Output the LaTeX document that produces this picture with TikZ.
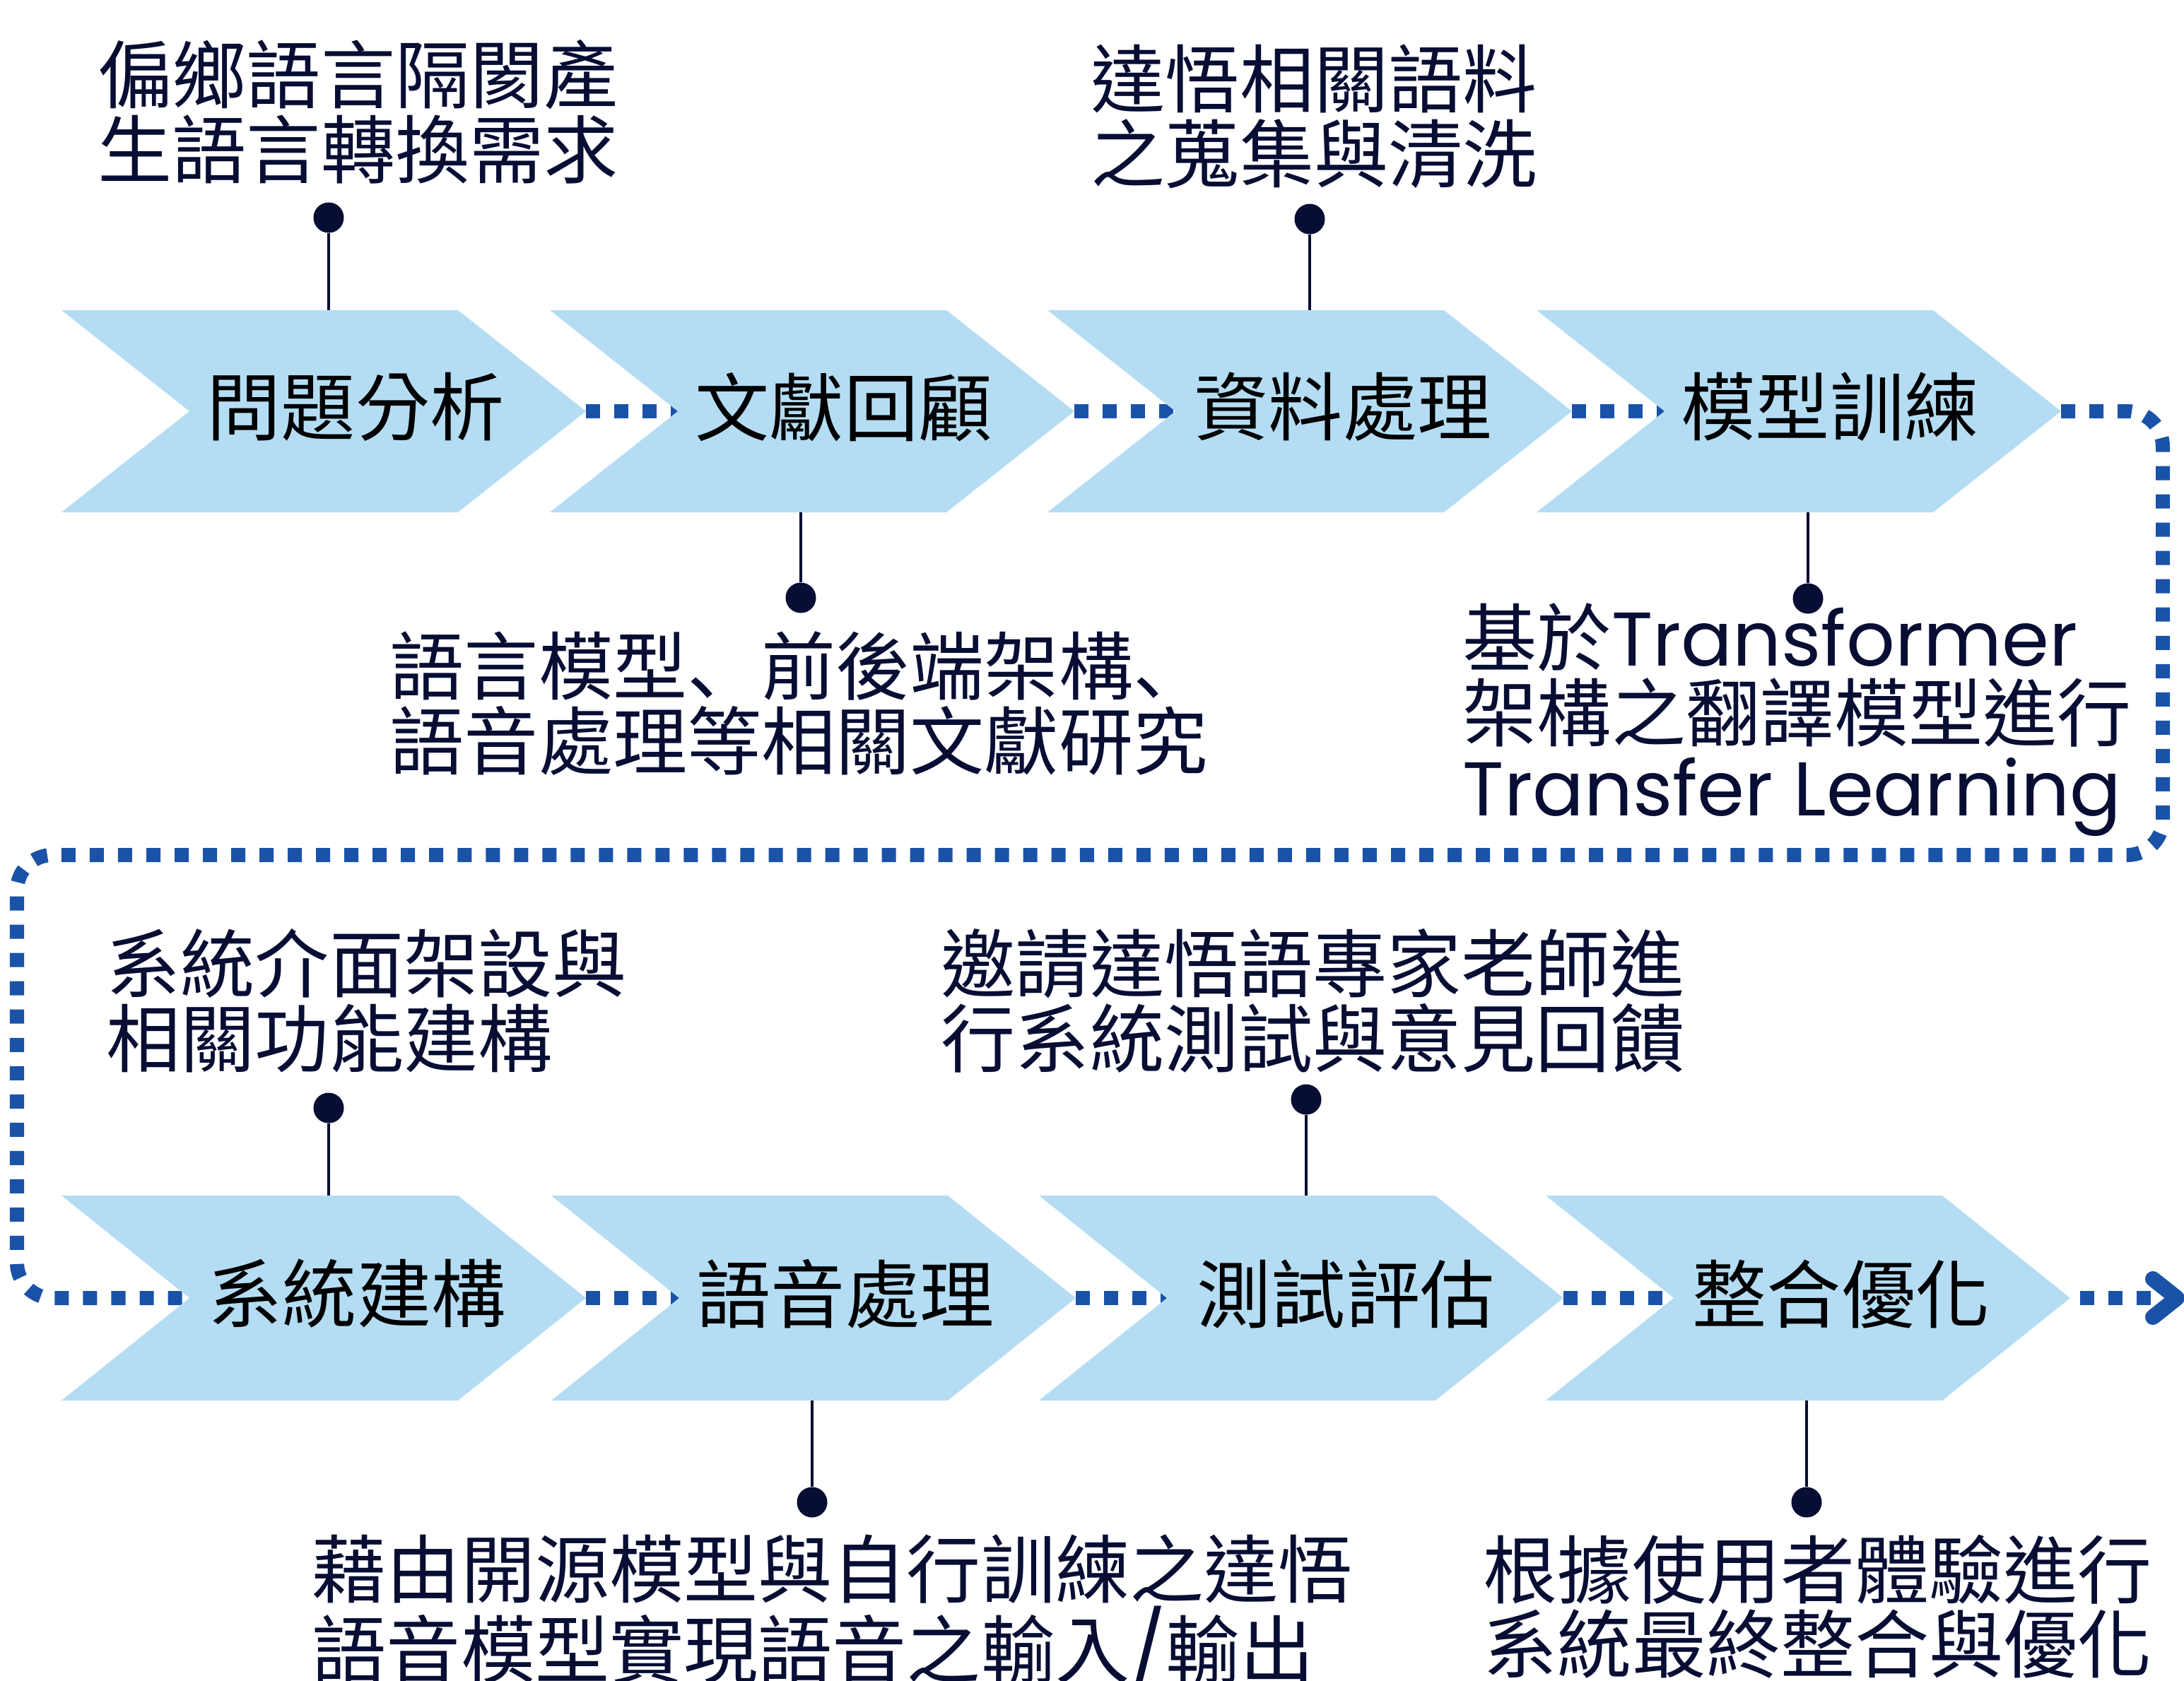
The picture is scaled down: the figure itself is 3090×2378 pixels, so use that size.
\documentclass[tikz,border=0pt]{standalone}
\usepackage{fontspec}
\setmainfont{Noto Sans CJK TC}
\newfontfamily\popf[Scale=1.025]{Poppins}
\newfontfamily\scf{Noto Sans CJK SC}
\usetikzlibrary{backgrounds}
\definecolor{chevblue}{HTML}{B4DDF4}
\definecolor{dotblue}{HTML}{1A52A8}
\definecolor{navy}{HTML}{070D33}
\tikzset{
  chevlabel/.style={font=\fontsize{29.9}{30.1}\selectfont, text=black, inner sep=0pt, anchor=center},
  note/.style={font=\fontsize{29.9}{30.1}\selectfont, text=navy, align=left, inner sep=0pt, anchor=north west},
  pin/.style={circle, fill=navy, minimum size=0.43cm, inner sep=0pt},
  stem/.style={draw=navy, line width=0.9pt},
  flow/.style={draw=dotblue, line width=0.2cm, dash pattern=on 0.2cm off 0.2cm},
  flowtip/.style={draw=dotblue, line width=0.22cm, line cap=round, line join=round},
}
% #1 name, #2 left x, #3 top y, #4 bottom y, #5 text centre x, #6 text
\newcommand{\mkchev}[6]{%
  \pgfmathsetmacro{\chevmid}{(#3+#4)/2}%
  \fill[chevblue] (#2,#3) -- (#2+561,#3) -- (#2+742,\chevmid) -- (#2+561,#4) -- (#2,#4) -- (#2+181,\chevmid) -- cycle;
  \coordinate (#1-tip) at (#2+742,\chevmid);
  \coordinate (#1-notch) at (#2+181,\chevmid);
  \coordinate (#1-top) at (#2,#3);
  \coordinate (#1-bot) at (#2,#4);
  \node[chevlabel] (#1) at (#5,\chevmid-6) {#6};
}
\begin{document}
\begin{tikzpicture}[x=0.01cm, y=-0.01cm]
\useasboundingbox (0,0) rectangle (3090,2378);

% chevrons
\mkchev{c1}{87}{439}{725}{503}{問題分析}
\mkchev{c2}{778}{439}{725}{1194}{文獻回顧}
\mkchev{c3}{1482}{439}{725}{1900}{資料處理}
\mkchev{c4}{2174}{439}{725}{2589}{模型訓練}
\mkchev{c5}{87}{1692}{1982}{505}{系統建構}
\mkchev{c6}{780}{1692}{1982}{1196}{語音處理}
\mkchev{c7}{1470}{1692}{1982}{1904}{測試評估}
\mkchev{c8}{2187}{1692}{1982}{2605}{整合優化}

\coordinate (loop-r) at (3060,1210);
\coordinate (loop-l) at (24,1210);
\coordinate (arrow-end) at (3043,1837);
\coordinate (arrow-tip) at (3080,1837);

% connectors behind the chevrons
\begin{scope}[on background layer]
  \draw[flow] (c1-tip) -- (c2-notch);
  \draw[flow] (c2-tip) -- (c3-notch);
  \draw[flow] (c3-tip) -- (c4-notch);
  \draw[flow, rounded corners=0.5cm] (c4-tip) -- (c4-tip -| loop-r) -- (loop-r) -- (loop-l) -- (loop-l |- c5-notch) -- (c5-notch);
  \draw[flow] (c5-tip) -- (c6-notch);
  \draw[flow] (c6-tip) -- (c7-notch);
  \draw[flow] (c7-tip) -- (c8-notch);
  \draw[flow, dash phase=0.26cm] (c8-tip) -- (arrow-end);
\end{scope}
\draw[flowtip] ([shift={(-34,-27)}]arrow-tip) -- (arrow-tip) -- ([shift={(-34,27)}]arrow-tip);

% annotations
\node[note] (n1) at (138,56) {偏鄉語言隔閡產\\生語言轉換需求};
\node[note] (n2) at (1543,62) {達悟相關語料\\之蒐集與清洗};
\node[note] (n3) at (551,893) {語言模型{\scf 、}前後端架構{\scf 、}\\語音處理等相關文獻研究};
\node[note] (n4) at (2069,853) {基於{\popf Transformer}\\架構之翻譯模型進行\\{\popf Transfer Learning}};
\node[note] (n5) at (150,1314) {系統介面架設與\\相關功能建構};
\node[note] (n6) at (1331,1314) {邀請達悟語專家老師進\\行系統測試與意見回饋};
\node[note] (n7) at (441,2171) {藉由開源模型與自行訓練之達悟\\語音模型實現語音之輸入{\popf /}輸出};
\node[note] (n8) at (2098,2171) {根據使用者體驗進行\\系統最終整合與優化};

% pins and stems
\node[pin] (p1) at (465,308) {};
\node[pin] (p2) at (1853,310) {};
\node[pin] (p3) at (1133,846) {};
\node[pin] (p4) at (2558,847) {};
\node[pin] (p5) at (465,1568) {};
\node[pin] (p6) at (1848,1556) {};
\node[pin] (p7) at (1149,2126) {};
\node[pin] (p8) at (2556,2126) {};
\draw[stem] (p1) -- (p1 |- c1-top);
\draw[stem] (p2) -- (p2 |- c3-top);
\draw[stem] (p3) -- (p3 |- c2-bot);
\draw[stem] (p4) -- (p4 |- c4-bot);
\draw[stem] (p5) -- (p5 |- c5-top);
\draw[stem] (p6) -- (p6 |- c7-top);
\draw[stem] (p7) -- (p7 |- c6-bot);
\draw[stem] (p8) -- (p8 |- c8-bot);
\end{tikzpicture}
\end{document}
